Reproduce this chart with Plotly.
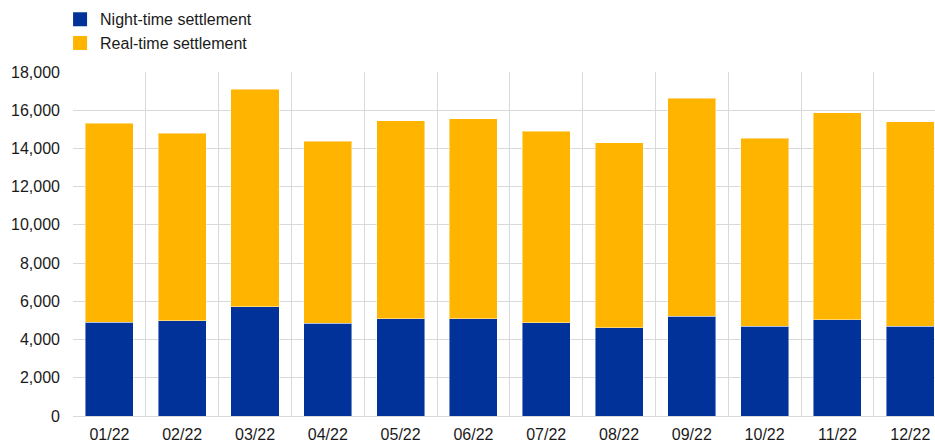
import plotly.graph_objects as go

months = ["01/22", "02/22", "03/22", "04/22", "05/22", "06/22",
          "07/22", "08/22", "09/22", "10/22", "11/22", "12/22"]
night_time = [4900, 4990, 5720, 4850, 5095, 5080, 4885, 4605, 5215, 4690, 5040, 4690]
real_time = [10430, 9815, 11385, 9535, 10355, 10475, 10005, 9695, 11420, 9835, 10840, 10720]
y_ticks = [0, 2000, 4000, 6000, 8000, 10000, 12000, 14000, 16000, 18000]

BLUE = "#003299"
YELLOW = "#FFB400"
FONT = "Liberation Sans, Arial, sans-serif"

fig = go.Figure()
fig.add_trace(go.Bar(x=months, y=night_time, name="Night-time settlement",
                     marker=dict(color=BLUE, line=dict(color="rgba(255,255,255,0.45)", width=1)),
                     showlegend=False))
fig.add_trace(go.Bar(x=months, y=real_time, name="Real-time settlement",
                     marker=dict(color=YELLOW, line=dict(color="rgba(255,255,255,0.45)", width=1)),
                     showlegend=False))
# legend entries as square markers
fig.add_trace(go.Scatter(x=[None], y=[None], mode="markers", name="Night-time settlement",
                         marker=dict(symbol="square", size=14, color=BLUE)))
fig.add_trace(go.Scatter(x=[None], y=[None], mode="markers", name="Real-time settlement",
                         marker=dict(symbol="square", size=14, color=YELLOW)))

fig.update_layout(
    width=935, height=441,
    barmode="stack", bargap=0.34,
    margin=dict(l=73, r=0, t=72, b=25),
    paper_bgcolor="white", plot_bgcolor="white",
    font=dict(family=FONT, size=16, color="#1a1a1a"),
    legend=dict(x=-0.015, y=1.2025, xanchor="left", yanchor="top",
                traceorder="normal",
                bgcolor="rgba(0,0,0,0)", font=dict(size=16),
                tracegroupgap=0, itemwidth=30),
    xaxis=dict(type="category", range=[-0.5, 11.34], tickson="boundaries",
               showgrid=True, gridcolor="#d9d9d9", gridwidth=1,
               ticks="", showline=False, automargin=False,
               ticklabelstandoff=7, fixedrange=True),
    yaxis=dict(range=[0, 18000], tickvals=y_ticks, tickformat=",",
               showgrid=True, gridcolor="#d9d9d9", gridwidth=1,
               zeroline=True, zerolinecolor="#d9d9d9", zerolinewidth=1,
               ticks="", showline=False, automargin=False,
               ticklabelstandoff=12, fixedrange=True),
)

fig.write_html("out.html", config={"displayModeBar": False},
               post_script="document.body.style.margin='0';document.body.style.overflow='hidden';")
